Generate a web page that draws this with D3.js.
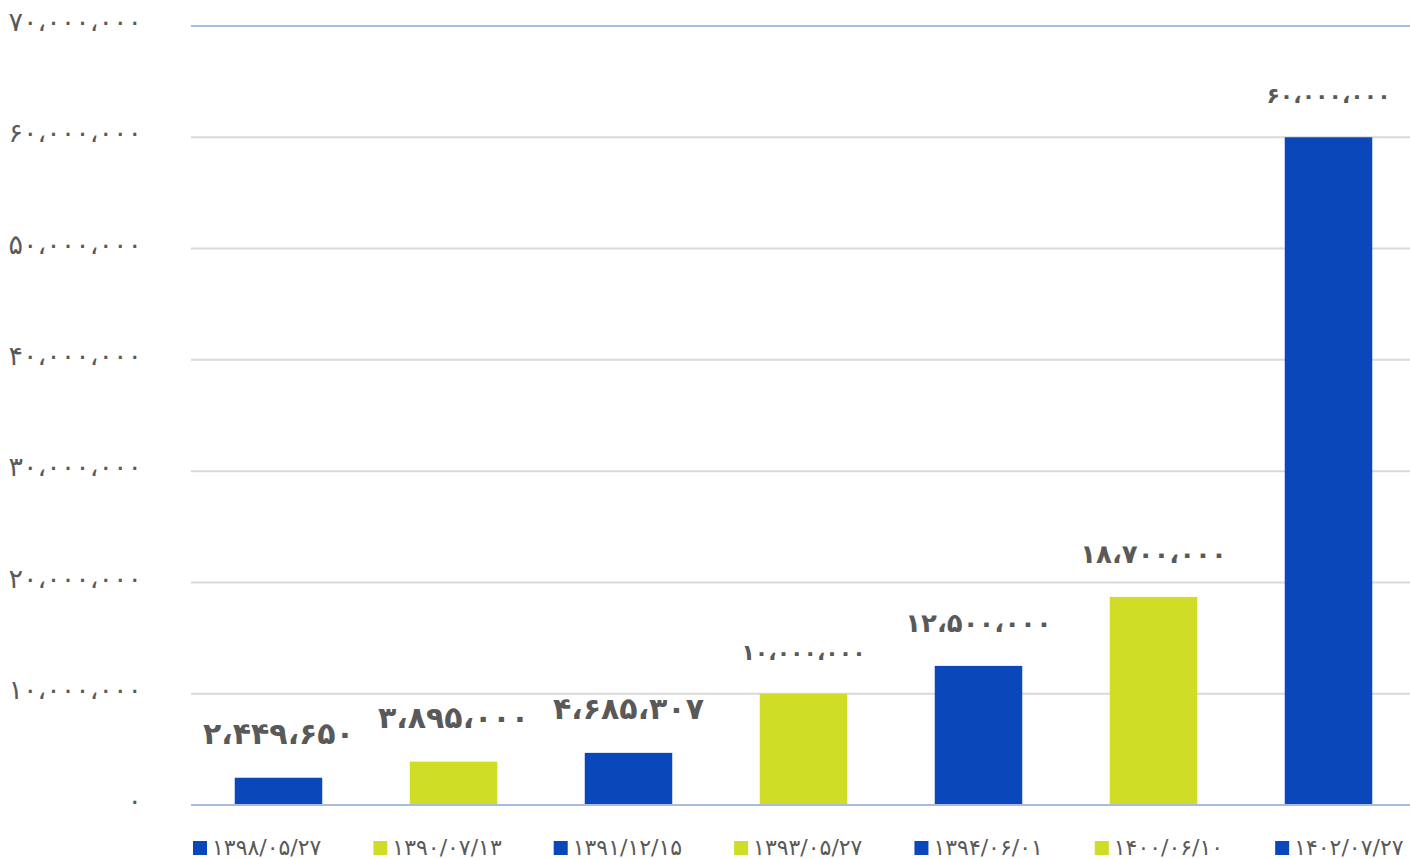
<!DOCTYPE html>
<html><head><meta charset="utf-8">
<script src="https://cdn.jsdelivr.net/npm/d3@7"></script>
<style>
html,body{margin:0;padding:0;background:#fff;}
svg{display:block;font-family:"DejaVu Sans",sans-serif;}
</style></head>
<body>
<svg id="chart" width="1410" height="859"></svg>
<script>
const categories = ["۱۳۹۸/۰۵/۲۷","۱۳۹۰/۰۷/۱۳","۱۳۹۱/۱۲/۱۵","۱۳۹۳/۰۵/۲۷","۱۳۹۴/۰۶/۰۱","۱۴۰۰/۰۶/۱۰","۱۴۰۲/۰۷/۲۷"];
const values = [2449650, 3895000, 4685307, 10000000, 12500000, 18700000, 60000000];
const valueLabels = ["۲،۴۴۹،۶۵۰","۳،۸۹۵،۰۰۰","۴،۶۸۵،۳۰۷","۱۰،۰۰۰،۰۰۰","۱۲،۵۰۰،۰۰۰","۱۸،۷۰۰،۰۰۰","۶۰،۰۰۰،۰۰۰"];
const tickValues = [0,10000000,20000000,30000000,40000000,50000000,60000000,70000000];
const tickLabels = ["۰","۱۰،۰۰۰،۰۰۰","۲۰،۰۰۰،۰۰۰","۳۰،۰۰۰،۰۰۰","۴۰،۰۰۰،۰۰۰","۵۰،۰۰۰،۰۰۰","۶۰،۰۰۰،۰۰۰","۷۰،۰۰۰،۰۰۰"];
const barColors = ["#0a47bb","#cfdd27","#0a47bb","#cfdd27","#0a47bb","#cfdd27","#0a47bb"];
const labelSizes = [30,30,30,22,26,26,22];

const svg = d3.select("#chart");
const pLeft = 191, pRight = 1416, pTop = 26, pBottom = 805;
const x = d3.scaleBand().domain(categories).range([pLeft, pRight]).paddingInner(0.5).paddingOuter(0.25);
const y = d3.scaleLinear().domain([0, 70000000]).range([pBottom, pTop]);
const textColor = "#595959";

// gridlines
svg.append("g").selectAll("line").data(tickValues).join("line")
  .attr("x1", pLeft).attr("x2", 1410)
  .attr("y1", d => y(d)).attr("y2", d => y(d))
  .attr("stroke", (d,i) => (i===0 || i===tickValues.length-1) ? "#a9bbe0" : "#d9d9d9")
  .attr("stroke-width", 2);

// y-axis labels
const yAxis = d3.axisLeft(y).tickValues(tickValues).tickFormat((d,i) => tickLabels[i]).tickSize(0).tickPadding(0);
const ya = svg.append("g").attr("transform", `translate(142,-4)`).call(yAxis);
ya.select(".domain").remove();
ya.selectAll("text").attr("fill", textColor).attr("font-size", 27).attr("direction","ltr").attr("font-family","DejaVu Sans");

// bars
svg.append("g").selectAll("rect").data(values).join("rect")
  .attr("x", (d,i) => x(categories[i]))
  .attr("width", x.bandwidth())
  .attr("y", d => y(d))
  .attr("height", d => y(0) - y(d))
  .attr("fill", (d,i) => barColors[i]);

// baseline redraw
svg.append("line").attr("x1", pLeft).attr("x2", 1410).attr("y1", y(0)).attr("y2", y(0))
  .attr("stroke", "#a9bbe0").attr("stroke-width", 2);

// data labels
svg.append("g").selectAll("text").data(values).join("text")
  .attr("x", (d,i) => x(categories[i]) + x.bandwidth()/2)
  .attr("y", d => y(d) - 34)
  .attr("text-anchor", "middle")
  .attr("direction","ltr")
  .attr("fill", textColor)
  .attr("font-weight", "bold")
  .attr("font-size", (d,i) => labelSizes[i])
  .text((d,i) => valueLabels[i]);

// legend (items laid out in sequence, like a spreadsheet legend)
const legend = svg.append("g");
let lx = 193;
categories.forEach((c, i) => {
  const g = legend.append("g").attr("transform", `translate(${lx},0)`);
  g.append("rect").attr("x", 0).attr("y", 841).attr("width", 14).attr("height", 14).attr("fill", barColors[i]);
  const t = g.append("text").attr("x", 19).attr("y", 855).attr("fill", textColor)
    .attr("font-size", 22).attr("direction","ltr").text(c);
  const w = t.node().getComputedTextLength();
  lx += 19 + w + 52;
});
</script>
</body></html>
